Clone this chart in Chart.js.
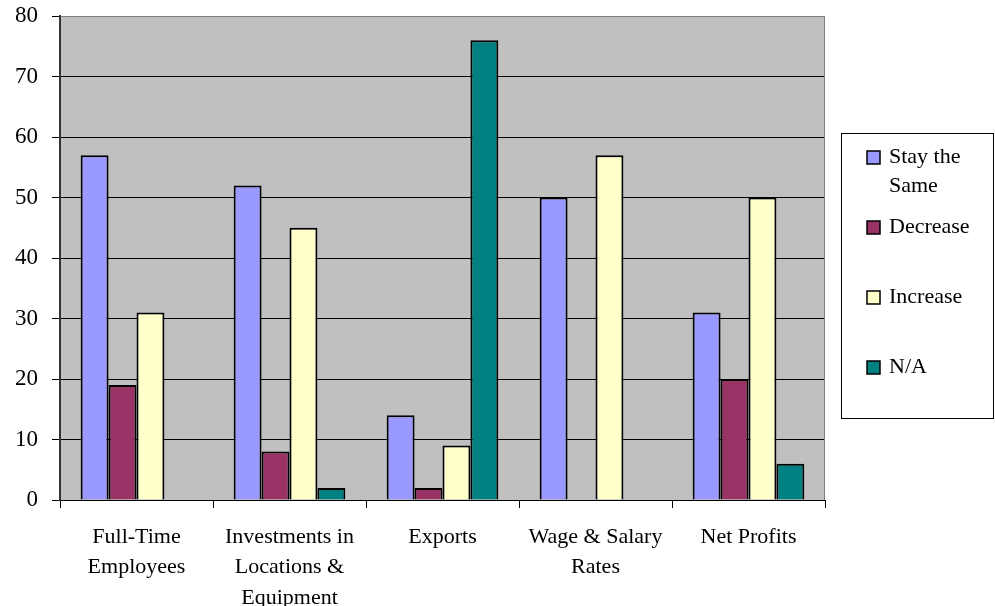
<!DOCTYPE html>
<html lang="en">
<head>
  <meta charset="UTF-8">
  <title>Bar Chart</title>
  <script src="https://cdn.jsdelivr.net/npm/chart.js"></script>
  <style>
    body { margin: 0; background: #fff; }
    #wrap { width: 995px; height: 606px; }
  </style>
</head>
<body>
  <div id="wrap"><canvas id="myChart"></canvas></div>

  <script>
    // chart data
    const categories = [
      ['Full-Time', 'Employees'],
      ['Investments in', 'Locations &', 'Equipment'],
      'Exports',
      ['Wage & Salary', 'Rates'],
      'Net Profits'
    ];
    const seriesNames = ['Stay the Same', 'Decrease', 'Increase', 'N/A'];
    const stayTheSame = [57, 52, 14, 50, 31];
    const decrease = [19, 8, 2, 0, 20];
    const increase = [31, 45, 9, 57, 50];
    const notApplicable = [0, 2, 76, 0, 6];
    const yMin = 0, yMax = 80, yStep = 10;

    const colors = ['#9999FF', '#993366', '#FFFFCC', '#008080'];
    const fontFamily = '"Liberation Serif", "Times New Roman", serif';

    // grey plot background + right border
    const plotBackground = {
      id: 'plotBackground',
      beforeDraw(chart) {
        const { ctx, chartArea: a } = chart;
        ctx.save();
        ctx.fillStyle = '#fff';
        ctx.fillRect(0, 0, chart.width, chart.height);
        ctx.fillStyle = '#C0C0C0';
        ctx.fillRect(a.left, a.top, a.right - a.left, a.bottom - a.top);
        ctx.restore();
      },
      afterDraw(chart) {
        const { ctx, chartArea: a } = chart;
        ctx.save();
        ctx.strokeStyle = '#808080';
        ctx.lineWidth = 1;
        ctx.beginPath();
        ctx.moveTo(a.right - 0.5, a.top);
        ctx.lineTo(a.right - 0.5, a.bottom);
        ctx.stroke();
        ctx.restore();
      }
    };

    // legend in a box on the right (with word wrap)
    const legendBox = {
      id: 'legendBox',
      afterDraw(chart) {
        const ctx = chart.ctx;
        const left = chart.chartArea.right + 16;
        const right = chart.width - 2;
        const top = 133, bottom = 418;
        ctx.save();
        ctx.strokeStyle = '#000';
        ctx.lineWidth = 1;
        ctx.strokeRect(left + 0.5, top + 0.5, right - left, bottom - top);
        ctx.font = '22px ' + fontFamily;
        ctx.textBaseline = 'middle';
        const textX = left + 48;
        const maxW = right - textX - 6;
        chart.data.datasets.forEach((ds, i) => {
          const y = top + 24 + i * 70;
          ctx.fillStyle = ds.backgroundColor;
          ctx.fillRect(left + 26, y - 6, 13, 13);
          ctx.strokeStyle = '#000';
          ctx.lineWidth = 1.5;
          ctx.strokeRect(left + 26, y - 6, 13, 13);
          // wrap
          const words = ds.label.split(' ');
          const lines = [];
          let cur = '';
          words.forEach(w => {
            const t = cur ? cur + ' ' + w : w;
            if (cur && ctx.measureText(t).width > maxW) { lines.push(cur); cur = w; }
            else cur = t;
          });
          lines.push(cur);
          ctx.fillStyle = '#000';
          lines.forEach((l, j) => ctx.fillText(l, textX, y + j * 29));
        });
        ctx.restore();
      }
    };

    const series = [stayTheSame, decrease, increase, notApplicable];
    const ctx = document.getElementById('myChart').getContext('2d');
    const myChart = new Chart(ctx, {
      type: 'bar',
      data: {
        labels: categories,
        datasets: seriesNames.map((name, i) => ({
          label: name,
          data: series[i],
          backgroundColor: colors[i],
          borderColor: '#000',
          borderWidth: 2,
          categoryPercentage: 0.73,
          barPercentage: 1
        }))
      },
      options: {
        responsive: true,
        maintainAspectRatio: false,
        animation: false,
        layout: { padding: { top: 16, right: 170, left: 0, bottom: 0 } },
        plugins: {
          legend: { display: false },
          tooltip: { enabled: false }
        },
        scales: {
          x: {
            afterFit(scale) { scale.height = 106; },
            grid: {
              display: true,
              drawOnChartArea: false,
              drawTicks: true,
              tickLength: 8,
              color: '#000',
              offset: true
            },
            border: { display: true, color: '#000', width: 1 },
            ticks: {
              color: '#000',
              padding: 14,
              maxRotation: 0,
              autoSkip: false,
              font: { family: fontFamily, size: 22, lineHeight: 1.38 }
            }
          },
          y: {
            min: yMin,
            max: yMax,
            afterFit(scale) {
              scale.width = 60;
              scale.paddingTop = 0;
              scale.paddingBottom = 0;
            },
            grid: {
              color: c => (c.tick && c.tick.value === yMax ? '#808080' : '#000'),
              tickColor: '#000',
              tickLength: 8,
              lineWidth: 1
            },
            border: { display: true, color: '#333', width: 2 },
            ticks: {
              stepSize: yStep,
              color: '#000',
              padding: 14,
              font: { family: fontFamily, size: 23 }
            }
          }
        }
      },
      plugins: [plotBackground, legendBox]
    });
  </script>
</body>
</html>
